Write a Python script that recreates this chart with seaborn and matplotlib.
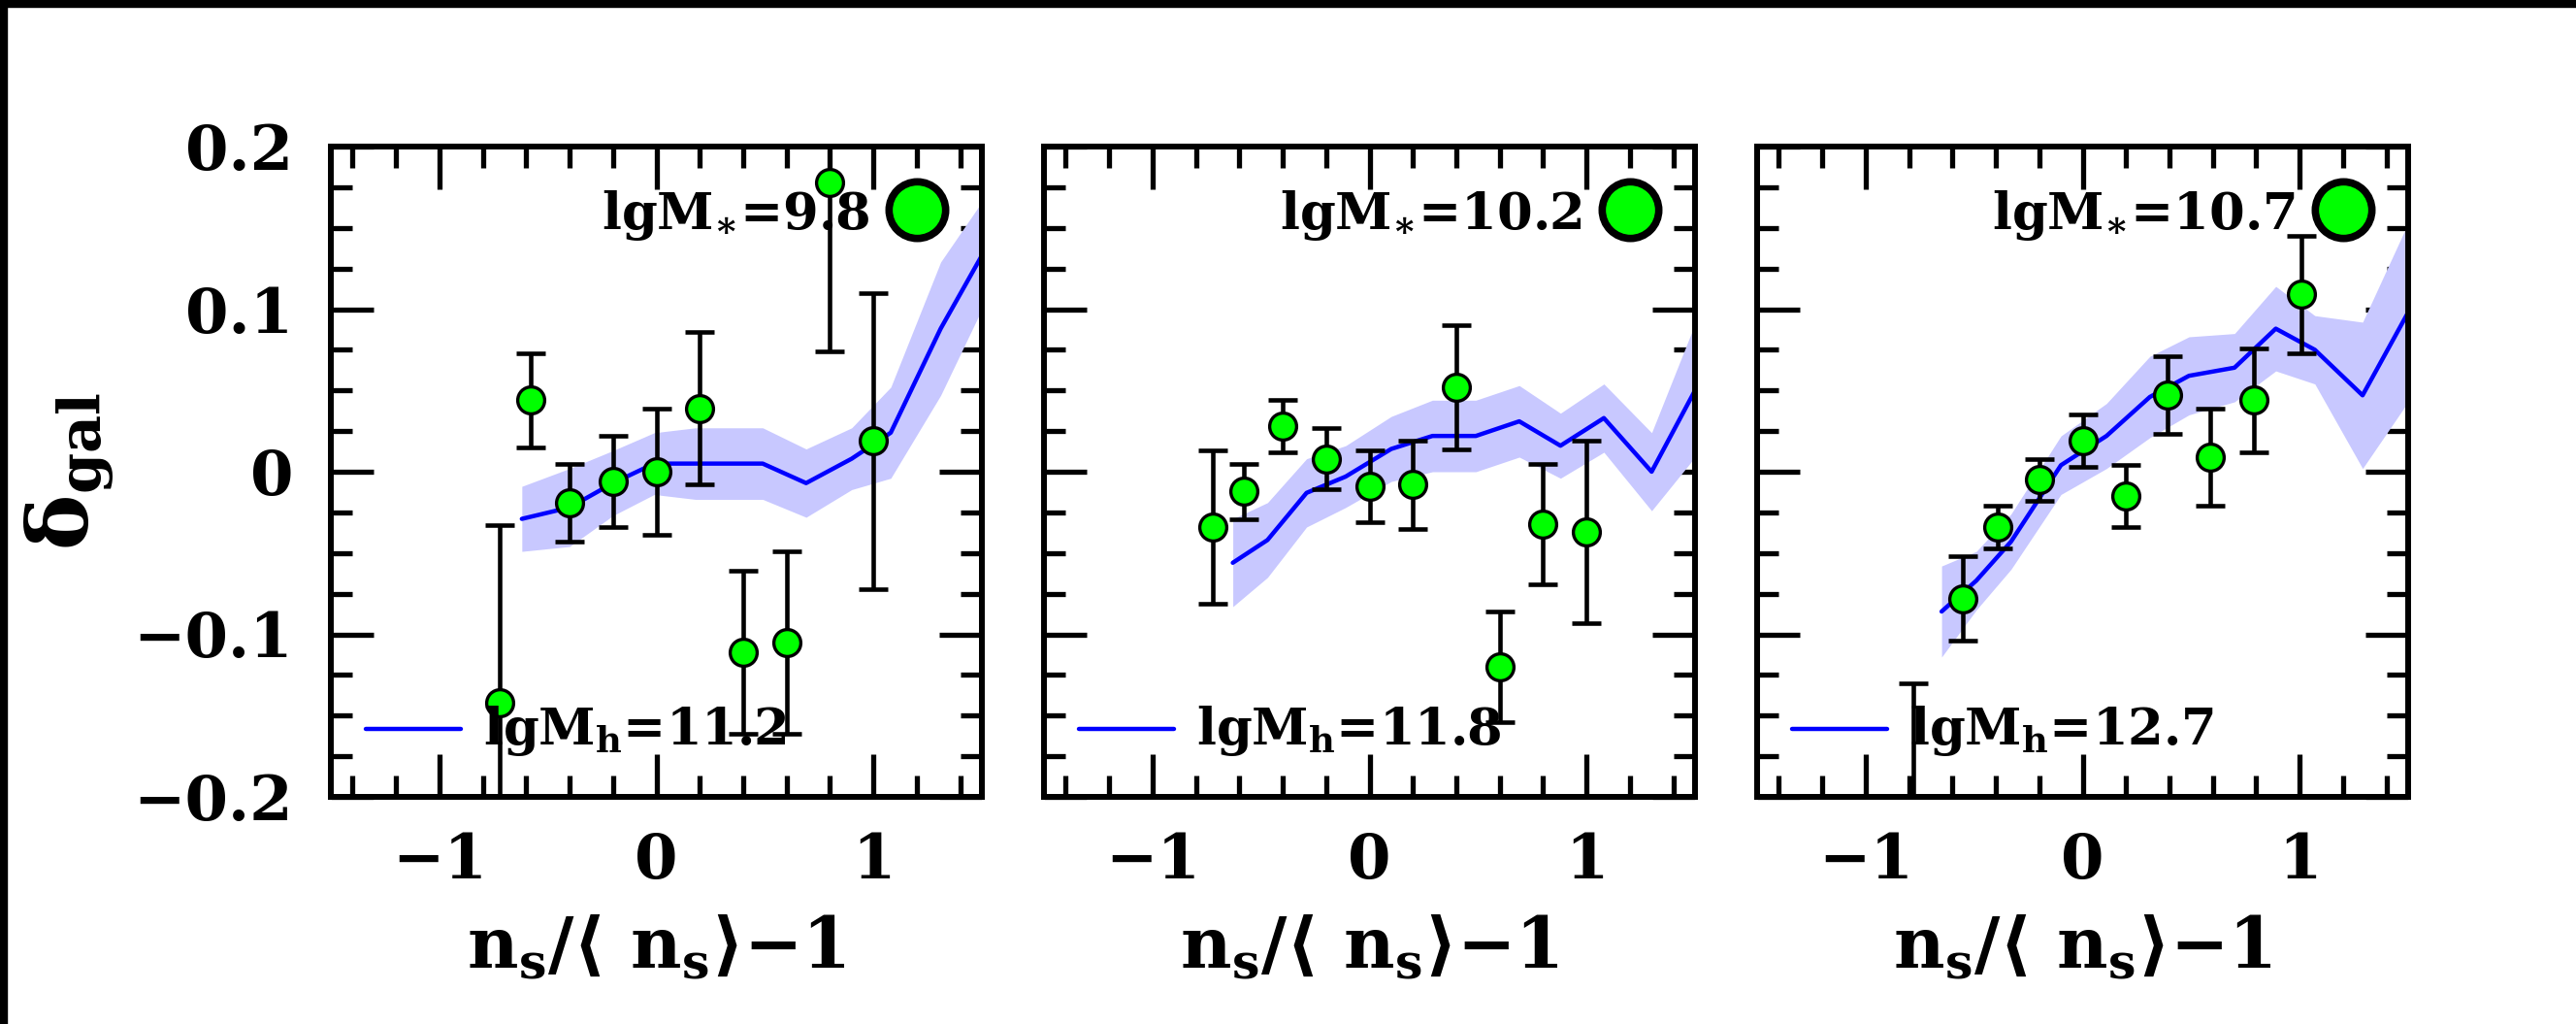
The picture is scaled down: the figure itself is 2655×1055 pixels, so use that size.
import numpy as np
import matplotlib
matplotlib.use("Agg")
import matplotlib.pyplot as plt
from matplotlib.ticker import MultipleLocator, FuncFormatter
from matplotlib.patches import Rectangle
import seaborn as sns

# ---------------- data ----------------
# observed points (x = n_s/<n_s>-1, y = delta_gal, symmetric errors)
obs_x1 = [-0.72, -0.58, -0.40, -0.20, 0.00, 0.20, 0.40, 0.60, 0.80, 1.00]
obs_y1 = [-0.142, 0.044, -0.019, -0.006, 0.000, 0.039, -0.111, -0.105, 0.178, 0.019]
obs_e1 = [0.109, 0.029, 0.024, 0.028, 0.039, 0.047, 0.050, 0.056, 0.104, 0.091]

obs_x2 = [-0.72, -0.58, -0.40, -0.20, 0.00, 0.20, 0.40, 0.60, 0.80, 1.00]
obs_y2 = [-0.034, -0.012, 0.028, 0.008, -0.009, -0.008, 0.052, -0.120, -0.032, -0.037]
obs_e2 = [0.047, 0.017, 0.016, 0.019, 0.022, 0.027, 0.038, 0.034, 0.037, 0.056]

obs_x3 = [-0.78, -0.55, -0.39, -0.20, 0.00, 0.20, 0.39, 0.59, 0.79, 1.01]
obs_y3 = [-0.220, -0.078, -0.034, -0.005, 0.019, -0.015, 0.047, 0.009, 0.044, 0.109]
obs_e3 = [0.090, 0.026, 0.013, 0.013, 0.016, 0.019, 0.024, 0.030, 0.032, 0.036]

# model curves (line + half-width of shaded band)
mod_x1 = [-0.62, -0.40, -0.20, -0.01, 0.18, 0.49, 0.69, 0.90, 1.08, 1.31, 1.50]
mod_y1 = [-0.029, -0.022, -0.007, 0.005, 0.005, 0.005, -0.007, 0.008, 0.024, 0.088, 0.133]
mod_w1 = [0.020, 0.024, 0.020, 0.019, 0.022, 0.022, 0.021, 0.019, 0.028, 0.041, 0.033]

mod_x2 = [-0.63, -0.47, -0.29, -0.11, 0.10, 0.29, 0.49, 0.69, 0.88, 1.08, 1.30, 1.50]
mod_y2 = [-0.056, -0.042, -0.013, -0.003, 0.014, 0.022, 0.022, 0.031, 0.016, 0.033, 0.000, 0.050]
mod_w2 = [0.027, 0.023, 0.021, 0.019, 0.020, 0.022, 0.022, 0.022, 0.020, 0.021, 0.024, 0.041]

mod_x3 = [-0.65, -0.49, -0.33, -0.10, 0.11, 0.31, 0.49, 0.70, 0.89, 1.07, 1.29, 1.50]
mod_y3 = [-0.086, -0.067, -0.043, 0.004, 0.022, 0.046, 0.059, 0.064, 0.088, 0.075, 0.047, 0.098]
mod_w3 = [0.028, 0.018, 0.017, 0.018, 0.020, 0.025, 0.024, 0.021, 0.026, 0.021, 0.045, 0.055]

stellar_labels = ["9.8", "10.2", "10.7"]
halo_labels = ["11.2", "11.8", "12.7"]

x_ticks = [-1, 0, 1]
y_ticks = [-0.2, -0.1, 0, 0.1, 0.2]

# ---------------- style ----------------
sns.set_style("white")
plt.rcParams["font.family"] = ["DejaVu Serif", "DejaVu Sans"]
plt.rcParams["font.weight"] = "bold"
plt.rcParams["mathtext.fontset"] = "dejavuserif"
plt.rcParams["mathtext.default"] = "bf"
plt.rcParams["axes.unicode_minus"] = True
for key in ["text.color", "axes.labelcolor", "xtick.color", "ytick.color",
            "xtick.labelcolor", "ytick.labelcolor", "axes.edgecolor"]:
    plt.rcParams[key] = "black"

W, H = 2655, 1055
fig = plt.figure(figsize=(W / 100, H / 100), dpi=100)
fig.patch.set_facecolor("white")

# black strips at top and left edges
fig.patches.append(Rectangle((0, 1 - 7 / H), 1, 7 / H, transform=fig.transFigure,
                             color="black", zorder=0))
fig.patches.append(Rectangle((0, 0), 7 / W, 1, transform=fig.transFigure,
                             color="black", zorder=0))

lefts = [341, 1076, 1811]
ax_w, ax_top, ax_bot = 671, 151, 821

panels = [
    (obs_x1, obs_y1, obs_e1, mod_x1, mod_y1, mod_w1),
    (obs_x2, obs_y2, obs_e2, mod_x2, mod_y2, mod_w2),
    (obs_x3, obs_y3, obs_e3, mod_x3, mod_y3, mod_w3),
]

GREEN = "#00ff00"
BLUE = "#0000ff"
BAND = "#c8c8ff"

def fmt(v, pos):
    s = f"{v:g}"
    return s.replace("-", "\u2212")

for i, (ox, oy, oe, mx, my, mw) in enumerate(panels):
    ax = fig.add_axes([lefts[i] / W, 1 - ax_bot / H, ax_w / W, (ax_bot - ax_top) / H])
    ax.set_facecolor("white")
    mx_a, my_a, mw_a = np.array(mx), np.array(my), np.array(mw)
    ax.fill_between(mx_a, my_a - mw_a, my_a + mw_a, color=BAND, lw=0, zorder=1)
    sns.lineplot(x=mx, y=my, ax=ax, color=BLUE, lw=3.2, sort=False,
                 estimator=None, zorder=2)
    ax.errorbar(ox, oy, yerr=oe, fmt="none", ecolor="black", elinewidth=3.3,
                capsize=11, capthick=3.3, zorder=3)
    sns.scatterplot(x=ox, y=oy, ax=ax, s=400, color=GREEN, edgecolor="black",
                    linewidth=2.4, zorder=4)

    # annotations
    ax.text(0.98, 0.149, "lgM$_{\\ast}$=" + stellar_labels[i], ha="right", va="baseline",
            fontsize=38, color="black", zorder=6)
    ax.plot([1.2], [0.161], "o", ms=42, mfc=GREEN, mec="black", mew=5.5, zorder=6)
    ax.plot([-1.34, -0.9], [-0.158, -0.158], color=BLUE, lw=3.2, zorder=6)
    ax.text(-0.8, -0.168, "lgM$_h$=" + halo_labels[i], ha="left", va="baseline",
            fontsize=38, color="black", zorder=6)

    ax.set_xlim(-1.5, 1.5)
    ax.set_ylim(-0.2, 0.2)
    ax.set_xticks(x_ticks)
    ax.xaxis.set_minor_locator(MultipleLocator(0.2))
    ax.set_yticks(y_ticks)
    ax.yaxis.set_minor_locator(MultipleLocator(0.025))
    ax.xaxis.set_major_formatter(FuncFormatter(fmt))
    ax.yaxis.set_major_formatter(FuncFormatter(fmt))
    ax.tick_params(which="both", direction="in", top=True, right=True,
                   bottom=True, left=True, color="black", labelcolor="black")
    ax.tick_params(which="major", length=32, width=3.8)
    ax.tick_params(which="minor", length=16, width=3.8)
    ax.tick_params(axis="x", which="major", pad=26, labelsize=46)
    ax.tick_params(axis="y", which="major", pad=28, labelsize=46)
    if i > 0:
        ax.tick_params(axis="y", labelleft=False)
    for sp in ax.spines.values():
        sp.set_linewidth(4.3)
        sp.set_color("black")
        sp.set_visible(True)
    ax.set_xlabel(r"$n_s/\langle\ n_s\rangle{-}1$", fontsize=52, color="black")
    ax.xaxis.set_label_coords(0.5, -0.18)
    ax.xaxis.label.set_va("top")
    ax.set_ylabel("")

fig.text(72 / W, 1 - 486 / H, r"$\delta_{gal}$", rotation=90, ha="center",
         va="center", fontsize=62, color="black")

fig.savefig("out.png", dpi=100, facecolor="white")
